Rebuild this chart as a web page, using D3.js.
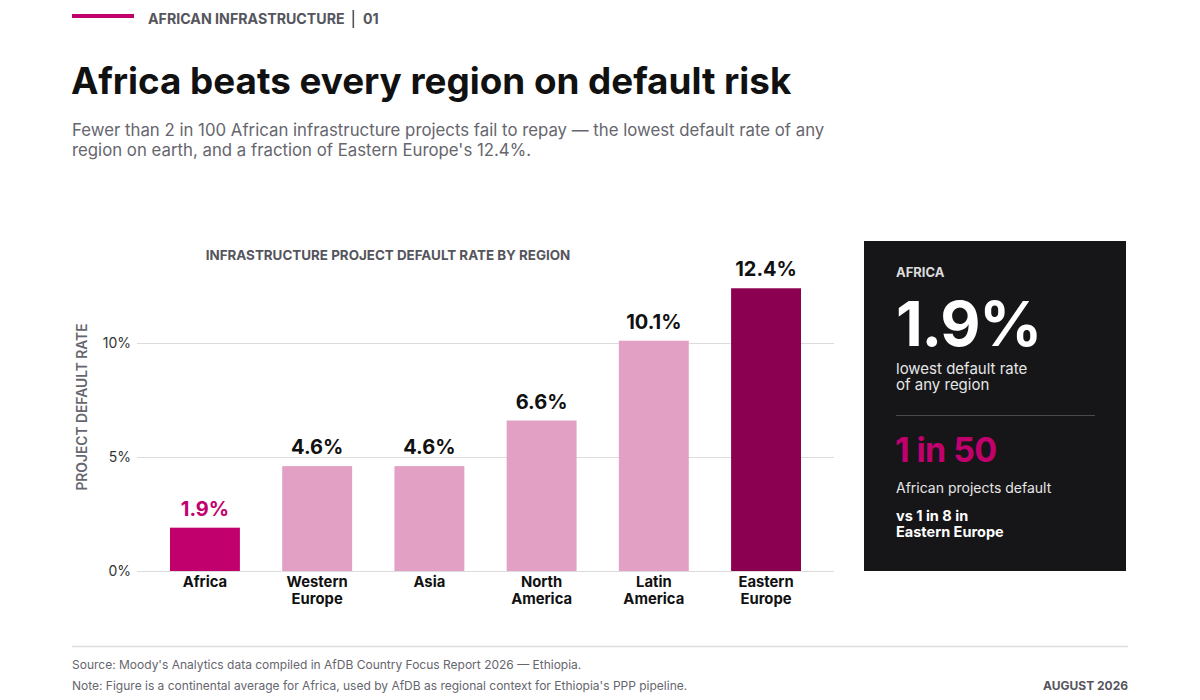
<!DOCTYPE html>
<html lang="en">
<head>
<meta charset="UTF-8">
<script src="https://d3js.org/d3.v7.min.js"></script>
<title>Africa beats every region on default risk</title>
<style>
  body { margin: 0; background: #fff; }
  svg { display: block; font-family: Inter, "Noto Sans", sans-serif; }
</style>
</head>
<body>
<script>
// data
var regions = ["Africa", "Western Europe", "Asia", "North America", "Latin America", "Eastern Europe"];
var regionLines = [["Africa"], ["Western", "Europe"], ["Asia"], ["North", "America"], ["Latin", "America"], ["Eastern", "Europe"]];
var defaultRates = [1.9, 4.6, 4.6, 6.6, 10.1, 12.4];
var yTicks = [0, 5, 10];

var magenta = "#c1006e", pink = "#e2a0c4", plum = "#8b0050";
var barColors = [magenta, pink, pink, pink, pink, plum];

var svg = d3.select("body").append("svg").attr("width", 1200).attr("height", 700);

// header
svg.append("rect").attr("x", 72).attr("y", 14).attr("width", 62).attr("height", 4).attr("fill", magenta);
svg.append("text").attr("x", 148).attr("y", 24).attr("font-size", 14.2).attr("font-weight", 700)
   .attr("fill", "#55555d").text("AFRICAN INFRASTRUCTURE");
svg.append("rect").attr("x", 352.5).attr("y", 10).attr("width", 1.6).attr("height", 18).attr("fill", "#55555d");
svg.append("text").attr("x", 363).attr("y", 24).attr("font-size", 14.2).attr("font-weight", 700)
   .attr("fill", "#55555d").text("01");

svg.append("text").attr("x", 71).attr("y", 94).attr("font-size", 36.8).attr("font-weight", 700)
   .attr("fill", "#111").text("Africa beats every region on default risk");

var sub = svg.append("text").attr("font-size", 16.8).attr("fill", "#66666e");
sub.append("tspan").attr("x", 72).attr("y", 136)
   .text("Fewer than 2 in 100 African infrastructure projects fail to repay \u2014 the lowest default rate of any");
sub.append("tspan").attr("x", 72).attr("y", 156)
   .text("region on earth, and a fraction of Eastern Europe's 12.4%.");

// chart
var x = d3.scaleBand().domain(regions).range([137, 834]).paddingInner(0.377).paddingOuter(0.294);
var y = d3.scaleLinear().domain([0, 14]).range([571, 571 - 14 * 22.8]);

svg.append("text").attr("x", 388).attr("y", 260).attr("text-anchor", "middle")
   .attr("font-size", 13.4).attr("font-weight", 700).attr("fill", "#55555d")
   .text("INFRASTRUCTURE PROJECT DEFAULT RATE BY REGION");

var yAxis = svg.append("g").attr("transform", "translate(137,0)")
   .call(d3.axisLeft(y).tickValues(yTicks).tickSize(-697).tickFormat(d => d + "%"));
yAxis.select(".domain").remove();
yAxis.selectAll(".tick line").attr("stroke", "#dcdcdc").attr("stroke-width", 1);
yAxis.selectAll(".tick text").attr("x", -6).attr("font-size", 14).attr("fill", "#333")
   .attr("font-family", "Inter, sans-serif");

svg.append("text").attr("transform", "translate(87,407) rotate(-90)").attr("text-anchor", "middle")
   .attr("font-size", 13.8).attr("font-weight", 600).attr("fill", "#66666e").text("PROJECT DEFAULT RATE");

svg.selectAll("rect.bar").data(regions).join("rect").attr("class", "bar")
   .attr("x", d => x(d)).attr("width", x.bandwidth())
   .attr("y", (d, i) => y(defaultRates[i])).attr("height", (d, i) => y(0) - y(defaultRates[i]))
   .attr("fill", (d, i) => barColors[i]);

svg.selectAll("text.val").data(regions).join("text").attr("class", "val")
   .attr("x", d => x(d) + x.bandwidth() / 2).attr("y", (d, i) => y(defaultRates[i]) - 12)
   .attr("text-anchor", "middle").attr("font-size", 20).attr("font-weight", 700)
   .attr("fill", (d, i) => i === 0 ? magenta : "#111")
   .text((d, i) => defaultRates[i].toFixed(1) + "%");

var xl = svg.selectAll("text.xl").data(regions).join("text").attr("class", "xl")
   .attr("text-anchor", "middle").attr("font-size", 14.8).attr("font-weight", 700).attr("fill", "#111");
xl.each(function (d, i) {
  var t = d3.select(this), cx = x(d) + x.bandwidth() / 2;
  regionLines[i].forEach((ln, j) => t.append("tspan").attr("x", cx).attr("y", 587 + j * 16.5).text(ln));
});

// card
svg.append("rect").attr("x", 864).attr("y", 241).attr("width", 262).attr("height", 330).attr("fill", "#161618");
svg.append("text").attr("x", 896).attr("y", 277).attr("font-size", 13).attr("font-weight", 700)
   .attr("fill", "#dcdcdc").text("AFRICA");
svg.append("text").attr("x", 896).attr("y", 346).attr("font-size", 62).attr("font-weight", 700)
   .attr("fill", "#fff").attr("letter-spacing", -1.2).text(defaultRates[0].toFixed(1) + "%");
svg.append("text").attr("x", 896).attr("y", 374).attr("font-size", 15).attr("fill", "#e6e6e6").text("lowest default rate");
svg.append("text").attr("x", 896).attr("y", 390).attr("font-size", 15).attr("fill", "#e6e6e6").text("of any region");
svg.append("line").attr("x1", 896).attr("x2", 1095).attr("y1", 415.5).attr("y2", 415.5)
   .attr("stroke", "#4a4a4e").attr("stroke-width", 1);
svg.append("text").attr("x", 895).attr("y", 462).attr("font-size", 34).attr("font-weight", 700)
   .attr("fill", magenta).attr("letter-spacing", -0.6).text("1 in 50");
svg.append("text").attr("x", 896).attr("y", 493).attr("font-size", 14).attr("fill", "#e6e6e6").text("African projects default");
svg.append("text").attr("x", 896).attr("y", 521).attr("font-size", 14.5).attr("font-weight", 700)
   .attr("fill", "#fff").text("vs 1 in 8 in");
svg.append("text").attr("x", 896).attr("y", 537).attr("font-size", 14.5).attr("font-weight", 700)
   .attr("fill", "#fff").text("Eastern Europe");

// footer
svg.append("line").attr("x1", 72).attr("x2", 1128).attr("y1", 646.5).attr("y2", 646.5)
   .attr("stroke", "#dcdcdc").attr("stroke-width", 1.5);
svg.append("text").attr("x", 72).attr("y", 669).attr("font-size", 12).attr("fill", "#66666e")
   .text("Source: Moody's Analytics data compiled in AfDB Country Focus Report 2026 \u2014 Ethiopia.");
svg.append("text").attr("x", 72).attr("y", 690).attr("font-size", 12).attr("fill", "#66666e")
   .text("Note: Figure is a continental average for Africa, used by AfDB as regional context for Ethiopia's PPP pipeline.");
svg.append("text").attr("x", 1128).attr("y", 690).attr("text-anchor", "end").attr("font-size", 12)
   .attr("font-weight", 700).attr("fill", "#55555d").text("AUGUST 2026");
</script>
</body>
</html>
